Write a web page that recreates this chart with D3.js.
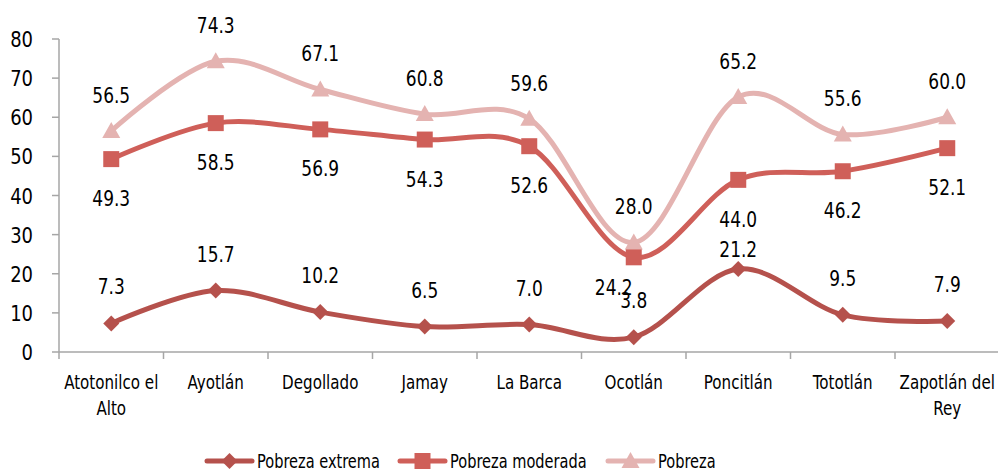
<!DOCTYPE html>
<html>
<head>
<meta charset="utf-8">
<script src="https://cdn.jsdelivr.net/npm/d3@7"></script>
<style>
  body { margin: 0; background: #fff; }
  svg text { font-family: "DejaVu Sans Condensed", "Liberation Sans Narrow", sans-serif; fill: #000; }
</style>
</head>
<body>
<svg id="chart" width="998" height="472"></svg>
<script>
// data
const municipios = [ 'Atotonilco el Alto', 'Ayotlán', 'Degollado', 'Jamay', 'La Barca', 'Ocotlán', 'Poncitlán', 'Tototlán', 'Zapotlán del Rey' ];
const pobrezaExtrema = [ 7.3, 15.7, 10.2, 6.5, 7.0, 3.8, 21.2, 9.5, 7.9 ];
const pobrezaModerada = [ 49.3, 58.5, 56.9, 54.3, 52.6, 24.2, 44.0, 46.2, 52.1 ];
const pobreza = [ 56.5, 74.3, 67.1, 60.8, 59.6, 28.0, 65.2, 55.6, 60.0 ];
const yTicks = [ 0, 10, 20, 30, 40, 50, 60, 70, 80 ];

const series = [
  { name : 'Pobreza extrema', values : pobrezaExtrema, color : '#b5514c', marker : 'diamond', labelDy : -37 },
  { name : 'Pobreza moderada', values : pobrezaModerada, color : '#cf5f59', marker : 'square', labelDy : 39 },
  { name : 'Pobreza', values : pobreza, color : '#e4b3b1', marker : 'triangle', labelDy : -36 }
];

// a couple of labels were nudged by hand in the original
const labelNudge = {
  'Pobreza moderada|Ocotlán' : [ -20, -9 ],
  'Pobreza extrema|Poncitlán' : [ 0, 17 ]
};

// the original font is a narrow one, squeeze the installed one to match
function condense( sel, factor ) {
  sel.each( function () {
    const w = this.getComputedTextLength();
    d3.select( this )
      .attr( 'textLength', w * factor )
      .attr( 'lengthAdjust', 'spacingAndGlyphs' );
  } );
}

const svg = d3.select( '#chart' );
const plotLeft = 59, plotRight = 999.5, plotTop = 39, plotBottom = 352;

const x = d3.scaleBand().domain( municipios ).range( [ plotLeft, plotRight ] );
const y = d3.scaleLinear().domain( [ 0, 80 ] ).range( [ plotBottom, plotTop ] );
const cx = d => x( d ) + x.bandwidth() / 2;

const axisColor = '#a6a6a6';

// y axis
svg.append( 'line' )
   .attr( 'x1', plotLeft ).attr( 'x2', plotLeft )
   .attr( 'y1', y( 80 ) ).attr( 'y2', y( 0 ) )
   .attr( 'stroke', axisColor ).attr( 'stroke-width', 1.5 );
svg.selectAll( '.ytick' )
   .data( yTicks )
   .enter().append( 'line' )
   .attr( 'x1', plotLeft - 7 ).attr( 'x2', plotLeft )
   .attr( 'y1', d => y( d ) ).attr( 'y2', d => y( d ) )
   .attr( 'stroke', axisColor ).attr( 'stroke-width', 1.5 );
const yl = svg.selectAll( '.ylabel' )
   .data( yTicks )
   .enter().append( 'text' )
   .attr( 'x', 33 ).attr( 'y', d => y( d ) + 8 )
   .attr( 'text-anchor', 'end' )
   .style( 'font-size', '21px' )
   .text( d => d );
condense( yl, 0.95 );

// x axis
svg.append( 'line' )
   .attr( 'x1', plotLeft ).attr( 'x2', plotRight )
   .attr( 'y1', plotBottom ).attr( 'y2', plotBottom )
   .attr( 'stroke', axisColor ).attr( 'stroke-width', 1.5 );
svg.selectAll( '.xtick' )
   .data( municipios.concat( [ null ] ) )
   .enter().append( 'line' )
   .attr( 'x1', ( d, i ) => plotLeft + i * x.bandwidth() )
   .attr( 'x2', ( d, i ) => plotLeft + i * x.bandwidth() )
   .attr( 'y1', plotBottom ).attr( 'y2', plotBottom + 7 )
   .attr( 'stroke', axisColor ).attr( 'stroke-width', 1.5 );

// wrap category names like the original
function wrapName( name ) {
  const words = name.split( ' ' );
  if ( words.length < 3 ) return [ name ];
  return [ words.slice( 0, words.length - 1 ).join( ' ' ), words[ words.length - 1 ] ];
}
const xl = svg.selectAll( '.xlabel' )
   .data( municipios )
   .enter().append( 'text' )
   .attr( 'text-anchor', 'middle' )
   .style( 'font-size', '20px' );
const xspans = xl.selectAll( 'tspan' )
  .data( d => wrapName( d ).map( t => ( { t : t, c : d } ) ) )
  .enter().append( 'tspan' )
  .attr( 'x', d => cx( d.c ) )
  .attr( 'y', ( d, i ) => 389 + i * 26 )
  .text( d => d.t );
condense( xspans, 0.84 );

// marker shapes
function markerPath( type ) {
  if ( type === 'diamond' ) return 'M0,-8L8,0L0,8L-8,0Z';
  if ( type === 'square' ) return 'M-8,-8H8V8H-8Z';
  return 'M0,-9L9,7H-9Z';
}

const line = d3.line()
  .x( ( d, i ) => cx( municipios[ i ] ) )
  .y( d => y( d ) )
  .curve( d3.curveCardinal.tension( 0 ) );

// draw back to front: Pobreza, moderada, extrema
[ 2, 1, 0 ].forEach( function ( k ) {
  const s = series[ k ];
  const g = svg.append( 'g' );
  g.append( 'path' )
   .attr( 'd', line( s.values ) )
   .attr( 'fill', 'none' )
   .attr( 'stroke', s.color )
   .attr( 'stroke-width', 5 )
   .attr( 'stroke-linecap', 'round' );
  g.selectAll( 'path.mk' )
   .data( s.values )
   .enter().append( 'path' )
   .attr( 'class', 'mk' )
   .attr( 'd', markerPath( s.marker ) )
   .attr( 'transform', ( d, i ) => 'translate(' + cx( municipios[ i ] ) + ',' + y( d ) + ')' )
   .attr( 'fill', s.color );
} );

// data labels
series.forEach( function ( s ) {
  const lbl = svg.selectAll( null )
     .data( s.values )
     .enter().append( 'text' )
     .attr( 'text-anchor', 'middle' )
     .style( 'font-size', '21px' )
     .attr( 'x', ( d, i ) => {
       const n = labelNudge[ s.name + '|' + municipios[ i ] ];
       return cx( municipios[ i ] ) + ( n ? n[ 0 ] : 0 );
     } )
     .attr( 'y', ( d, i ) => {
       const n = labelNudge[ s.name + '|' + municipios[ i ] ];
       return y( d ) + s.labelDy + 8 + ( n ? n[ 1 ] : 0 );
     } )
     .text( d => d.toFixed( 1 ) );
  condense( lbl, 0.9 );
} );

// legend
const legendX = [ 207, 400, 608 ];
const legend = svg.selectAll( '.legend' )
  .data( series )
  .enter().append( 'g' )
  .attr( 'transform', ( d, i ) => 'translate(' + legendX[ i ] + ',461)' );
legend.append( 'line' )
  .attr( 'x1', 0 ).attr( 'x2', 45 )
  .attr( 'stroke', d => d.color )
  .attr( 'stroke-width', 5 )
  .attr( 'stroke-linecap', 'round' );
legend.append( 'path' )
  .attr( 'd', d => markerPath( d.marker ) )
  .attr( 'transform', 'translate(22.5,0)' )
  .attr( 'fill', d => d.color );
const legendText = legend.append( 'text' )
  .attr( 'x', 50 ).attr( 'y', 7 )
  .style( 'font-size', '20px' )
  .text( d => d.name );
condense( legendText, 0.81 );
</script>
</body>
</html>
